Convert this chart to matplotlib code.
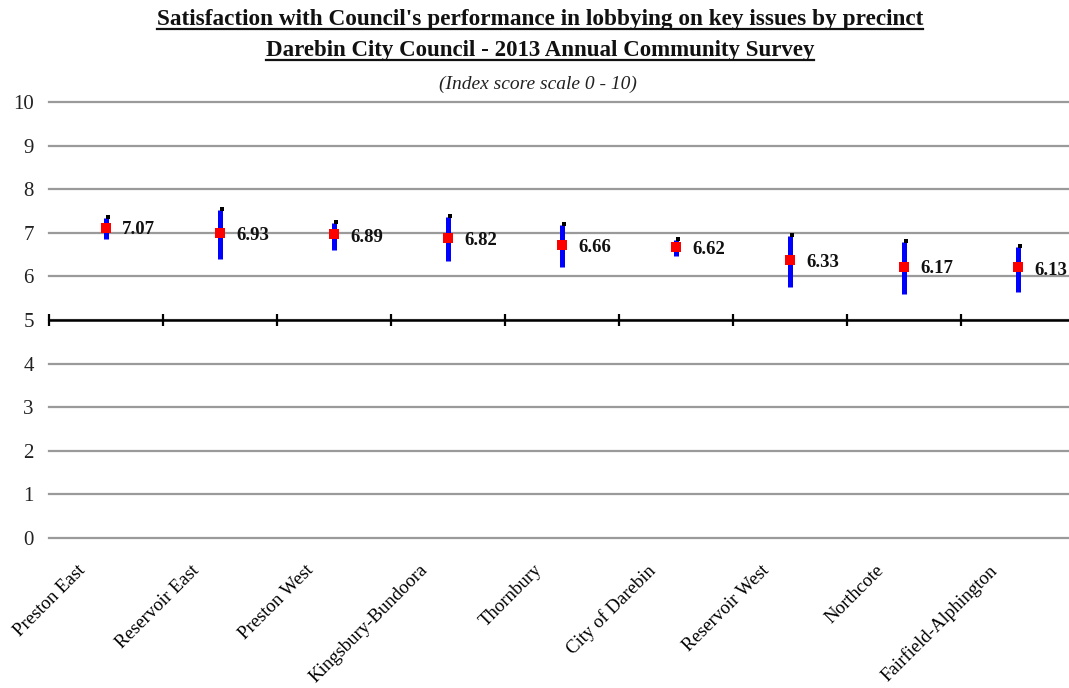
import matplotlib
matplotlib.use('Agg')
import matplotlib.pyplot as plt
import matplotlib.transforms as mtransforms
from matplotlib.lines import Line2D

# ---------------- data ----------------
precincts = ["Preston East", "Reservoir East", "Preston West", "Kingsbury-Bundoora",
             "Thornbury", "City of Darebin", "Reservoir West", "Northcote",
             "Fairfield-Alphington"]
index_scores = [7.07, 6.93, 6.89, 6.82, 6.66, 6.62, 6.33, 6.17, 6.13]
marker_pos = [7.12, 7.00, 6.97, 6.89, 6.71, 6.67, 6.38, 6.21, 6.21]
ci_low = [6.85, 6.40, 6.61, 6.35, 6.22, 6.47, 5.76, 5.60, 5.65]
ci_high = [7.35, 7.52, 7.23, 7.36, 7.18, 6.83, 6.93, 6.80, 6.68]
y_ticks = list(range(0, 11))
axis_cross = 5

title1 = "Satisfaction with Council's performance in lobbying on key issues by precinct"
title2 = "Darebin City Council - 2013 Annual Community Survey"
subtitle = "(Index score scale 0 - 10)"

FONT = 'Liberation Serif'
plt.rcParams['font.family'] = [FONT, 'DejaVu Serif']

W, H = 1069, 688
fig = plt.figure(figsize=(W / 100, H / 100), dpi=100)
ax = fig.add_axes([49 / W, 1 - 538 / H, (1075 - 49) / W, (538 - 102) / H])

n = len(precincts)
xs = list(range(n))
ax.set_xlim(-0.5, n - 0.5)
ax.set_ylim(0, 10)

# grid
ax.set_yticks(y_ticks)
ax.yaxis.grid(True, color='#9a9a9a', lw=1.6)
ax.set_axisbelow(True)
for gl in ax.get_ygridlines():
    gl.set_clip_on(False)
for s in ax.spines.values():
    s.set_visible(False)
ax.tick_params(axis='y', length=0, pad=11, labelsize=15, labelcolor='#222222')

# horizontal axis at 5
ax.axhline(axis_cross, color='black', lw=1.8, zorder=2)
bounds = [i - 0.5 for i in range(n + 1)]
ax.plot(bounds, [axis_cross] * len(bounds), linestyle='none', marker='|',
        color='black', ms=8, mew=1.6, zorder=2, clip_on=False)

# x tick labels
ax.set_xticks(xs)
ax.set_xticklabels(precincts, rotation=45, ha='right', va='top', fontsize=13.5)
ax.tick_params(axis='x', length=0, pad=17)
off = mtransforms.ScaledTranslation(-17 / 100, 0, fig.dpi_scale_trans)
for lbl in ax.get_xticklabels():
    lbl.set_transform(lbl.get_transform() + off)

# error bars
ax.vlines(xs, ci_low, ci_high, color='#0000FF', lw=3.6, zorder=3)
cap_tr = ax.transData + mtransforms.ScaledTranslation(2 / 100, 1 / 100, fig.dpi_scale_trans)
ax.plot(xs, ci_high, linestyle='none', marker='s', color='black', ms=2.8, mew=0,
        transform=cap_tr, zorder=4)
# markers
ax.plot(xs, marker_pos, linestyle='none', marker='s', color='#FF0000', ms=7.5,
        mew=0, zorder=5)
# value labels
for x, v in zip(xs, index_scores):
    ax.annotate(f"{v:.2f}", (x, v), xytext=(11.5, 0), textcoords='offset points',
                ha='left', va='center', fontsize=13.5, fontweight='bold', color='#111111')

# titles
cx = 540 / W
t1 = fig.text(cx, 1 - 25 / H, title1, ha='center', va='baseline', fontsize=14.5,
              fontweight='bold', color='#111111')
t2 = fig.text(cx, 1 - 56 / H, title2, ha='center', va='baseline', fontsize=14.5,
              fontweight='bold', color='#111111')
t3 = fig.text(538 / W, 1 - 89 / H, subtitle, ha='center', va='baseline', fontsize=13,
              fontstyle='italic', color='#222222')

fig.canvas.draw()
r = fig.canvas.get_renderer()
# fit title widths
for t, target in [(t1, 770), (t2, 550), (t3, 197)]:
    w = t.get_window_extent(r).width
    t.set_fontsize(t.get_fontsize() * target / w)
fig.canvas.draw()
for t, base_px in [(t1, 25), (t2, 56)]:
    bb = t.get_window_extent(r)
    yline = 1 - (base_px + 4) / H
    fig.add_artist(Line2D([bb.x0 / W, bb.x1 / W], [yline, yline], color='#111111', lw=1.6))

fig.savefig('out.png', dpi=100)
